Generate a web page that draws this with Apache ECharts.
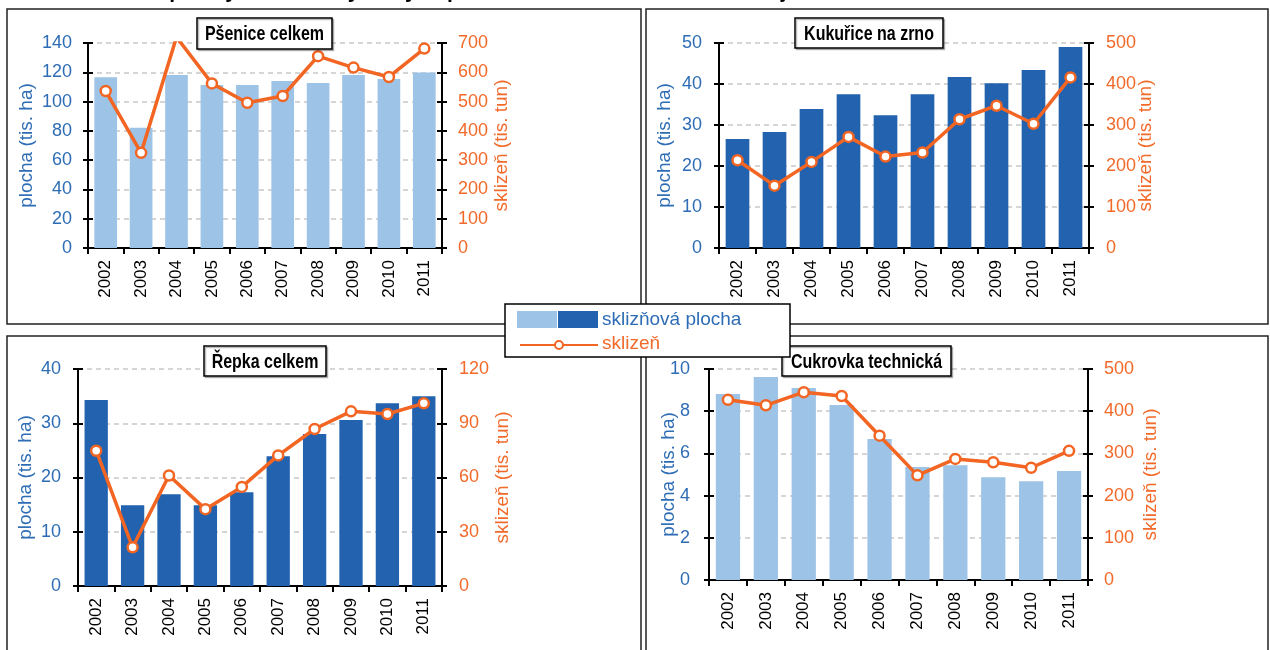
<!DOCTYPE html>
<html>
<head>
<meta charset="utf-8">
<script src="https://cdn.jsdelivr.net/npm/echarts@6/dist/echarts.min.js"></script>
<style>
html,body{margin:0;padding:0;background:#fff;}
#c{width:1270px;height:650px;}
</style>
</head>
<body>
<div id="c"></div>
<script>
// ---- data ----
const years = ['2002','2003','2004','2005','2006','2007','2008','2009','2010','2011'];
const psenicePlocha   = [116.6, 82.2, 118.2, 111.3, 111.3, 114.1, 112.7, 118.2, 115.4, 119.8];
const psenicSklizen   = [536, 325, 720, 562, 496, 519, 655, 616, 584, 681];
const kukuricePlocha  = [26.6, 28.3, 33.9, 37.5, 32.4, 37.5, 41.7, 40.2, 43.4, 49.0];
const kukuriceSklizen = [214, 152, 210, 271, 223, 233, 314, 347, 303, 416];
const repkaPlocha     = [34.3, 14.9, 16.9, 14.9, 17.3, 23.9, 28.0, 30.6, 33.7, 35.0];
const repkaSklizen    = [74.8, 21.4, 61.1, 42.5, 54.8, 72.2, 86.8, 96.6, 95.1, 101.0];
const cukrovkaPlocha  = [8.81, 9.62, 9.10, 8.29, 6.68, 5.35, 5.44, 4.87, 4.68, 5.16];
const cukrovkaSklizen = [427, 414, 445, 436, 342, 248, 287, 279, 266, 306];

const panelTitles = ['Pšenice celkem', 'Kukuřice na zrno', 'Řepka celkem', 'Cukrovka technická'];
const leftScales  = [[0,140,20],[0,50,10],[0,40,10],[0,10,2]];
const rightScales = [[0,700,100],[0,500,100],[0,120,30],[0,500,100]];
const leftName  = 'plocha (tis. ha)';
const rightName = 'sklizeň (tis. tun)';
const legendBarName = 'sklizňová plocha';
const legendLineName = 'sklizeň';
const chartTitle = 'Graf 2 Sklizňové plochy a sklizeň vybraných plodin v letech 2002 až 2011 v kraji';

// ---- styles ----
const LIGHT = '#9DC3E6', DARK = '#2262AE', ORANGE = '#F26522', BLUE_T = '#2E6DB5', ORANGE_T = '#F26A2A';
const FONT = "'Liberation Sans',Arial,sans-serif";

const panels = [
  {plocha: psenicePlocha,  sklizen: psenicSklizen,   color: LIGHT, grid:{left:88, top:43, width:354, height:205}, lm:16, rm:16, lg:52, rg:50,
   box:{x:197,y:18,w:135,h:31}},
  {plocha: kukuricePlocha, sklizen: kukuriceSklizen, color: DARK,  grid:{left:719,top:43, width:370, height:205}, lm:17, rm:17, lg:45, rg:47,
   box:{x:795,y:18,w:148,h:30}},
  {plocha: repkaPlocha,    sklizen: repkaSklizen,    color: DARK,  grid:{left:78, top:369,width:364, height:217}, lm:17, rm:17, lg:43, rg:51,
   box:{x:204,y:346,w:122,h:30}},
  {plocha: cukrovkaPlocha, sklizen: cukrovkaSklizen, color: LIGHT, grid:{left:709,top:369,width:379, height:211}, lm:19, rm:16, lg:31, rg:53,
   box:{x:782,y:346,w:169,h:30}}
];

const grids = [], xAxes = [], yAxes = [], series = [], graphics = [];

// panel frames
const frames = [
  {x:7, y:9, w:634, h:315},
  {x:646, y:9, w:622, h:315},
  {x:7, y:336, w:634, h:330},
  {x:646, y:336, w:622, h:330}
];
frames.forEach(f => graphics.push({type:'rect', shape:{x:f.x,y:f.y,width:f.w,height:f.h}, style:{fill:'#fff', stroke:'#222', lineWidth:1.5}, z:-10}));

panels.forEach((p, i) => {
  grids.push(Object.assign({containLabel:false}, p.grid));
  xAxes.push({
    type:'category', gridIndex:i, data:years,
    axisLine:{lineStyle:{color:'#000', width:2}},
    axisTick:{show:true, length:6, lineStyle:{color:'#000', width:2}},
    axisLabel:{rotate:90, color:'#000', fontSize:17, fontFamily:FONT, margin:12}
  });
  const ls = leftScales[i], rs = rightScales[i];
  const yi = yAxes.length;
  yAxes.push({
    type:'value', gridIndex:i, position:'left', min:ls[0], max:ls[1], interval:ls[2],
    name:leftName, nameLocation:'middle', nameGap:p.lg, nameMoveOverlap:false,
    nameTextStyle:{color:BLUE_T, fontSize:19, fontFamily:FONT},
    axisLine:{show:true, lineStyle:{color:'#000', width:2}},
    axisTick:{show:true, length:5, lineStyle:{color:'#000', width:2}},
    axisLabel:{color:BLUE_T, fontSize:18, fontFamily:FONT, margin:p.lm},
    splitLine:{show:true, lineStyle:{color:'#C8C8C8', type:[5,4], width:1.5}}
  });
  yAxes.push({
    type:'value', gridIndex:i, position:'right', min:rs[0], max:rs[1], interval:rs[2],
    name:rightName, nameLocation:'middle', nameGap:p.rg, nameMoveOverlap:false,
    nameTextStyle:{color:ORANGE_T, fontSize:19, fontFamily:FONT},
    axisLine:{show:true, lineStyle:{color:'#000', width:2}},
    axisTick:{show:true, length:5, lineStyle:{color:'#000', width:2}},
    axisLabel:{color:ORANGE_T, fontSize:18, fontFamily:FONT, margin:p.rm},
    splitLine:{show:false}
  });
  // inner halves of the crossing ticks
  yAxes.push({
    type:'value', gridIndex:i, position:'left', min:ls[0], max:ls[1], interval:ls[2],
    axisLine:{show:false}, axisLabel:{show:false}, splitLine:{show:false},
    axisTick:{show:true, inside:true, length:5, lineStyle:{color:'#000', width:2}}
  });
  yAxes.push({
    type:'value', gridIndex:i, position:'right', min:rs[0], max:rs[1], interval:rs[2],
    axisLine:{show:false}, axisLabel:{show:false}, splitLine:{show:false},
    axisTick:{show:true, inside:true, length:5, lineStyle:{color:'#000', width:2}}
  });
  series.push({
    type:'bar', name:legendBarName, xAxisIndex:i, yAxisIndex:yi, data:p.plocha,
    barCategoryGap:'36%', itemStyle:{color:p.color}, z:2, silent:true
  });
  series.push({
    type:'line', name:legendLineName, xAxisIndex:i, yAxisIndex:yi+1, data:p.sklizen,
    clip:true, symbol:'circle', symbolSize:10,
    lineStyle:{color:ORANGE, width:3.5},
    itemStyle:{color:'#fff', borderColor:ORANGE, borderWidth:2.5}, z:5, silent:true
  });
  // title box
  graphics.push({type:'rect', shape:{x:p.box.x, y:p.box.y, width:p.box.w, height:p.box.h},
    style:{fill:'#fff', stroke:'#000', lineWidth:1.5, shadowColor:'rgba(0,0,0,0.25)', shadowOffsetX:1.5, shadowOffsetY:1.5}, z:20});
  graphics.push({type:'text', x:p.box.x + p.box.w/2, y:p.box.y + p.box.h/2 + 1, z:21, scaleX:0.8,
    style:{text:panelTitles[i], fill:'#000', font:"bold 20px " + FONT, textAlign:'center', textVerticalAlign:'middle'}});
});

// legend box
graphics.push({type:'rect', shape:{x:505, y:304, width:285, height:53}, style:{fill:'#fff', stroke:'#000', lineWidth:1.5}, z:30});
graphics.push({type:'rect', shape:{x:517, y:311, width:40, height:17}, style:{fill:LIGHT}, z:31});
graphics.push({type:'rect', shape:{x:558, y:311, width:40, height:17}, style:{fill:DARK}, z:31});
graphics.push({type:'text', x:602, y:320, z:31, style:{text:legendBarName, fill:BLUE_T, font:"19px " + FONT, textVerticalAlign:'middle'}});
graphics.push({type:'line', shape:{x1:520, y1:345, x2:598, y2:345}, style:{stroke:ORANGE, lineWidth:2}, z:31});
graphics.push({type:'circle', shape:{cx:559, cy:345, r:4}, style:{fill:'#fff', stroke:ORANGE, lineWidth:2}, z:32});
graphics.push({type:'text', x:602, y:344, z:31, style:{text:legendLineName, fill:ORANGE_T, font:"19px " + FONT, textVerticalAlign:'middle'}});

// (cut-off) chart title at the very top
graphics.push({type:'text', x:0, y:3, z:40, style:{text:chartTitle, fill:'#000', font:"bold 21px " + FONT, textVerticalAlign:'bottom'}});

const chart = echarts.init(document.getElementById('c'), null, {renderer:'canvas'});
chart.setOption({
  animation:false,
  backgroundColor:'#fff',
  grid:grids, xAxis:xAxes, yAxis:yAxes, series:series, graphic:graphics
});
</script>
</body>
</html>
